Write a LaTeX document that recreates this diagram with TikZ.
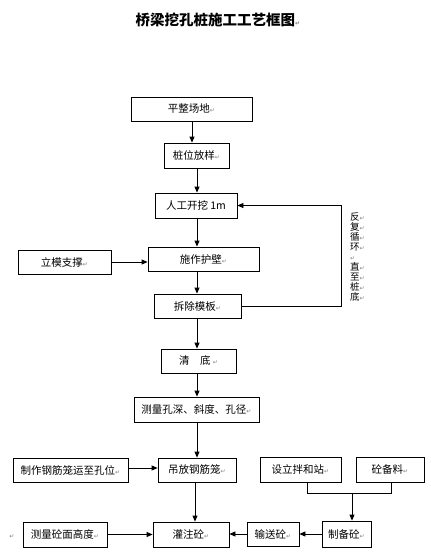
\documentclass[tikz,border=0pt]{standalone}
\usepackage{fontspec}
\setmainfont{Noto Sans CJK SC}
\newfontfamily\djv{DejaVu Sans}
\usetikzlibrary{arrows.meta}
\newcommand\rtm{{\djv\fontsize{6}{6}\selectfont\color{gray}↵}}
\tikzset{
  x=1pt,y=1pt,
  box/.style={draw,line width=0.8pt,inner sep=0pt,font=\fontsize{10.5}{12}\selectfont},
  arr/.style={-{Triangle[length=6pt,width=5pt]},line width=0.8pt},
  ln/.style={line width=0.8pt}
}
\begin{document}
\begin{tikzpicture}
\useasboundingbox (0,0) rectangle (431,-560);
\node[font=\bfseries\fontsize{14.5}{16}\selectfont] (title) at (218,-20) {桥梁挖孔桩施工工艺框图\rtm};
\node[box,minimum width=121,minimum height=24] (b1) at (191.5,-109) {平整场地\rtm};
\node[box,minimum width=65,minimum height=25] (b2) at (196.5,-155.5) {桩位放样\rtm};
\node[box,minimum width=82,minimum height=25] (b3) at (196,-205.5) {人工开挖 1m};
\node[box,minimum width=111,minimum height=24] (b4) at (203.5,-259) {施作护壁\rtm};
\node[box,minimum width=93,minimum height=24] (lm) at (64.5,-262) {立模支撑\rtm};
\node[box,minimum width=87,minimum height=24] (b5) at (197.5,-306) {拆除模板\rtm};
\node[box,minimum width=75,minimum height=24] (b6) at (198.5,-361) {清\quad 底 \rtm};
\node[box,minimum width=125,minimum height=25] (b7) at (196.5,-409.5) {测量孔深、斜度、孔径\rtm};
\node[box,minimum width=78,minimum height=24] (b8) at (197,-470) {吊放钢筋笼\rtm};
\node[box,minimum width=115,minimum height=24] (zz) at (70.5,-470) {制作钢筋笼运至孔位\rtm};
\node[box,minimum width=81,minimum height=25] (sl) at (300.5,-469.5) {设立拌和站\rtm};
\node[box,minimum width=68,minimum height=25] (by) at (390,-469.5) {砼备料\rtm};
\node[box,minimum width=49,minimum height=26] (zb) at (346.5,-534) {制备砼\rtm};
\node[box,minimum width=52,minimum height=24] (ss) at (273,-534) {输送砼\rtm};
\node[box,minimum width=76,minimum height=25] (gz) at (191,-534.5) {灌注砼\rtm};
\node[box,minimum width=84,minimum height=25] (cl) at (65,-534.5) {测量砼面高度\rtm};
\node (stray) at (12,-537) {\rtm};
\node[anchor=north west,align=left,inner sep=0pt,font=\fontsize{9.5}{10}\selectfont] (vt) at (350,-212)
  {反\rtm\\复\rtm\\循\rtm\\环\rtm\\\rtm\\直\rtm\\至\rtm\\桩\rtm\\底\rtm};
% vertical flow
\draw[arr] (b1.south -| 192,0) -- (b2.north -| 192,0);
\draw[arr] (b2.south -| 197,0) -- (b3.north -| 197,0);
\draw[arr] (b3.south -| 197,0) -- (b4.north -| 197,0);
\draw[arr] (b4.south -| 197,0) -- (b5.north -| 197,0);
\draw[arr] (b5.south -| 197,0) -- (b6.north -| 197,0);
\draw[arr] (b6.south -| 197,0) -- (b7.north -| 197,0);
\draw[arr] (b7.south -| 197,0) -- (b8.north -| 197,0);
\draw[arr] (b8.south -| 195,0) -- (gz.north -| 195,0);
% loop
\coordinate (lp) at (341,-306);
\draw[arr] (b5.east) -- (lp) |- (b3.east);
% side inputs
\draw[arr] (lm.east) -- (lm.east -| b4.west);
\draw[arr] (zz.east |- 0,-468) -- (b8.west |- 0,-468);
\draw[arr] (cl.east) -- (cl.east -| gz.west);
\draw[arr] (ss.west) -- (ss.west -| gz.east);
\draw[arr] (zb.west) -- (zb.west -| ss.east);
% bracket
\coordinate (jl) at (307,-493);
\coordinate (jr) at (391,-493);
\coordinate (jm) at (352,-493);
\draw[ln] (jl |- sl.south) -- (jl) -- (jr) -- (jr |- by.south);
\draw[arr] (jm) -- (jm |- zb.north);
\end{tikzpicture}
\end{document}
